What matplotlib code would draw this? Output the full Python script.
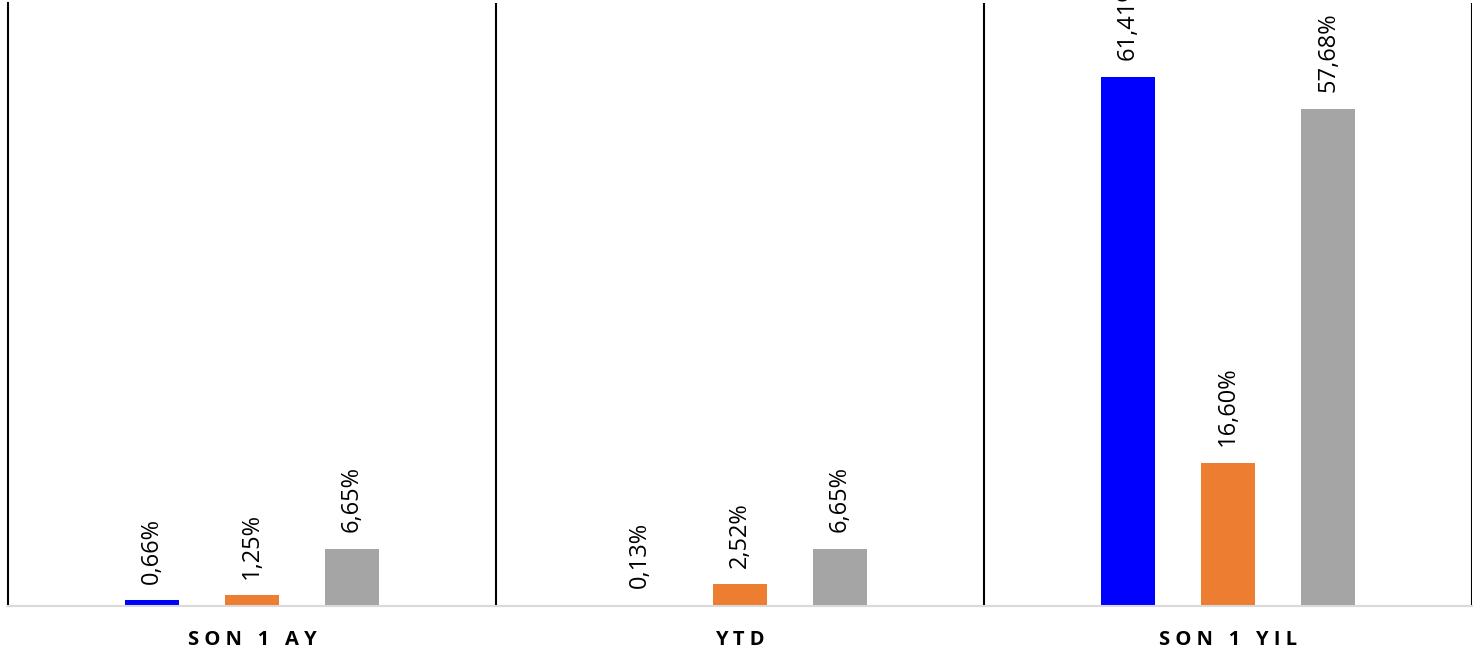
import matplotlib
import matplotlib.pyplot as plt
import numpy as np

matplotlib.use("Agg")

# Chart data
categories = ["S O N   1   A Y", "Y T D", "S O N   1   Y I L"]
series_names = ["Fon", "Karşılaştırma", "Endeks"]
series_values = [
    [0.66, 0.13, 61.41],   # blue
    [1.25, 2.52, 16.60],   # orange
    [6.65, 6.65, 57.68],   # gray
]
colors = ["#0000FF", "#ED7D31", "#A5A5A5"]

plt.rcParams["font.family"] = ["Open Sans", "DejaVu Sans"]

fig = plt.figure(figsize=(14.77, 6.58), dpi=100)
ax = fig.add_axes([8 / 1477, 52 / 658, 1464 / 1477, 603 / 658])

x = np.arange(len(categories))
offsets = [-0.205, 0.0, 0.205]
bar_width = 0.109

for vals, off, color in zip(series_values, offsets, colors):
    bars = ax.bar(x + off, vals, width=bar_width, color=color, zorder=2)
    for b, v in zip(bars, vals):
        ax.annotate(
            f"{v:.2f}%".replace(".", ","),
            xy=(b.get_x() + b.get_width() / 2, b.get_height()),
            xytext=(0, 12),
            textcoords="offset points",
            ha="center",
            va="bottom",
            rotation=90,
            fontsize=17,
            color="#000000",
            annotation_clip=False,
        )

ax.set_xlim(-0.5, len(categories) - 0.5)
ax.set_ylim(0, 70)

# group separators
for sep in np.arange(len(categories)) + 0.5:
    ax.axvline(sep, color="black", linewidth=1.5, zorder=1)

ax.spines["top"].set_visible(False)
ax.spines["right"].set_visible(False)
ax.spines["left"].set_color("black")
ax.spines["left"].set_linewidth(1.5)
ax.spines["bottom"].set_color("#D9D9D9")
ax.spines["bottom"].set_linewidth(1.5)

ax.set_yticks([])
ax.set_xticks(x)
ax.set_xticklabels(categories, fontsize=14.5, fontweight="bold")
ax.tick_params(axis="x", length=0, pad=17)

fig.savefig("out.png", dpi=100)
